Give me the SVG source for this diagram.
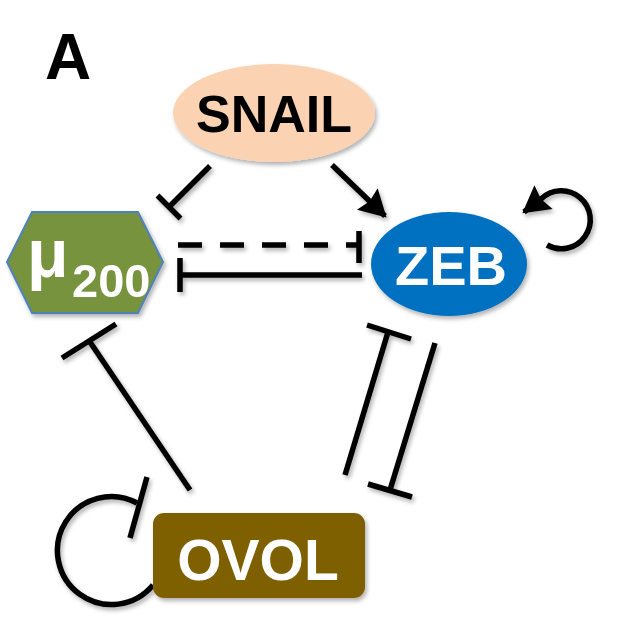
<svg xmlns="http://www.w3.org/2000/svg" width="642" height="627" viewBox="0 0 642 627">
<defs>
<filter id="sh" x="-20%" y="-20%" width="140%" height="140%">
<feDropShadow dx="2" dy="3" stdDeviation="2" flood-color="#000" flood-opacity="0.3"/>
</filter>
<marker id="arr" markerUnits="userSpaceOnUse" markerWidth="30" markerHeight="32" viewBox="0 0 26 30" refX="23" refY="15" orient="auto">
<path d="M0 1 L25 15 L0 29 L3 15 Z" fill="#000"/>
</marker>
</defs>
<style>
.t{font-family:"Liberation Sans",Arial,sans-serif;font-weight:bold}
.w{fill:#fff}
.ln{stroke:#000;stroke-width:5.5;fill:none}
</style>
<rect width="642" height="627" fill="#fff"/>
<text class="t" x="45" y="79" font-size="64" fill="#000">A</text>
<g id="connectors" filter="url(#sh)">
<line class="ln" x1="210" y1="166" x2="169" y2="207"/>
<line class="ln" x1="157.5" y1="195.5" x2="180.5" y2="218.5"/>
<line class="ln" x1="332" y1="165" x2="385" y2="216" marker-end="url(#arr)"/>
<path class="ln" d="M547 245 A29 29 0 1 0 541 199 L524 212" marker-end="url(#arr)"/>
<line class="ln" x1="178" y1="245" x2="359" y2="245" stroke-dasharray="24 18"/>
<line class="ln" x1="359" y1="231" x2="359" y2="263"/>
<line class="ln" x1="180" y1="275" x2="362" y2="275"/>
<line class="ln" x1="180" y1="258" x2="180" y2="292"/>
<line class="ln" x1="190" y1="490" x2="90" y2="342"/>
<line class="ln" x1="62" y1="358" x2="116" y2="324"/>
<line class="ln" x1="345" y1="475" x2="388" y2="332"/>
<line class="ln" x1="367" y1="325" x2="411" y2="339"/>
<line class="ln" x1="435" y1="343" x2="390" y2="490"/>
<line class="ln" x1="368" y1="484" x2="412" y2="497"/>
<path class="ln" d="M153 585 A54 54 0 1 1 137 503"/>
<line class="ln" x1="130" y1="538" x2="147" y2="477"/>
</g>
<g id="snail" filter="url(#sh)">
<ellipse cx="274" cy="113" rx="101" ry="49" fill="#FBD3B2"/>
<text class="t" x="274" y="132" font-size="52" text-anchor="middle" fill="#000">SNAIL</text>
</g>
<g id="mu200" filter="url(#sh)">
<polygon points="7,262 32,212 138,212 163,262 138,313 32,313" fill="#77933C" stroke="#4F81BD" stroke-width="2"/>
<text class="t w" x="27" y="277" font-size="68">μ</text>
<text class="t w" x="72" y="297" font-size="47">200</text>
</g>
<g id="zeb" filter="url(#sh)">
<ellipse cx="449" cy="264" rx="78" ry="52" fill="#0070C0"/>
<text class="t w" x="451" y="285" font-size="56" text-anchor="middle">ZEB</text>
</g>
<g id="ovol" filter="url(#sh)">
<rect x="153" y="513" width="212" height="85" rx="11" fill="#7F6000"/>
<text class="t w" x="258" y="580" font-size="57" text-anchor="middle">OVOL</text>
</g>
</svg>
